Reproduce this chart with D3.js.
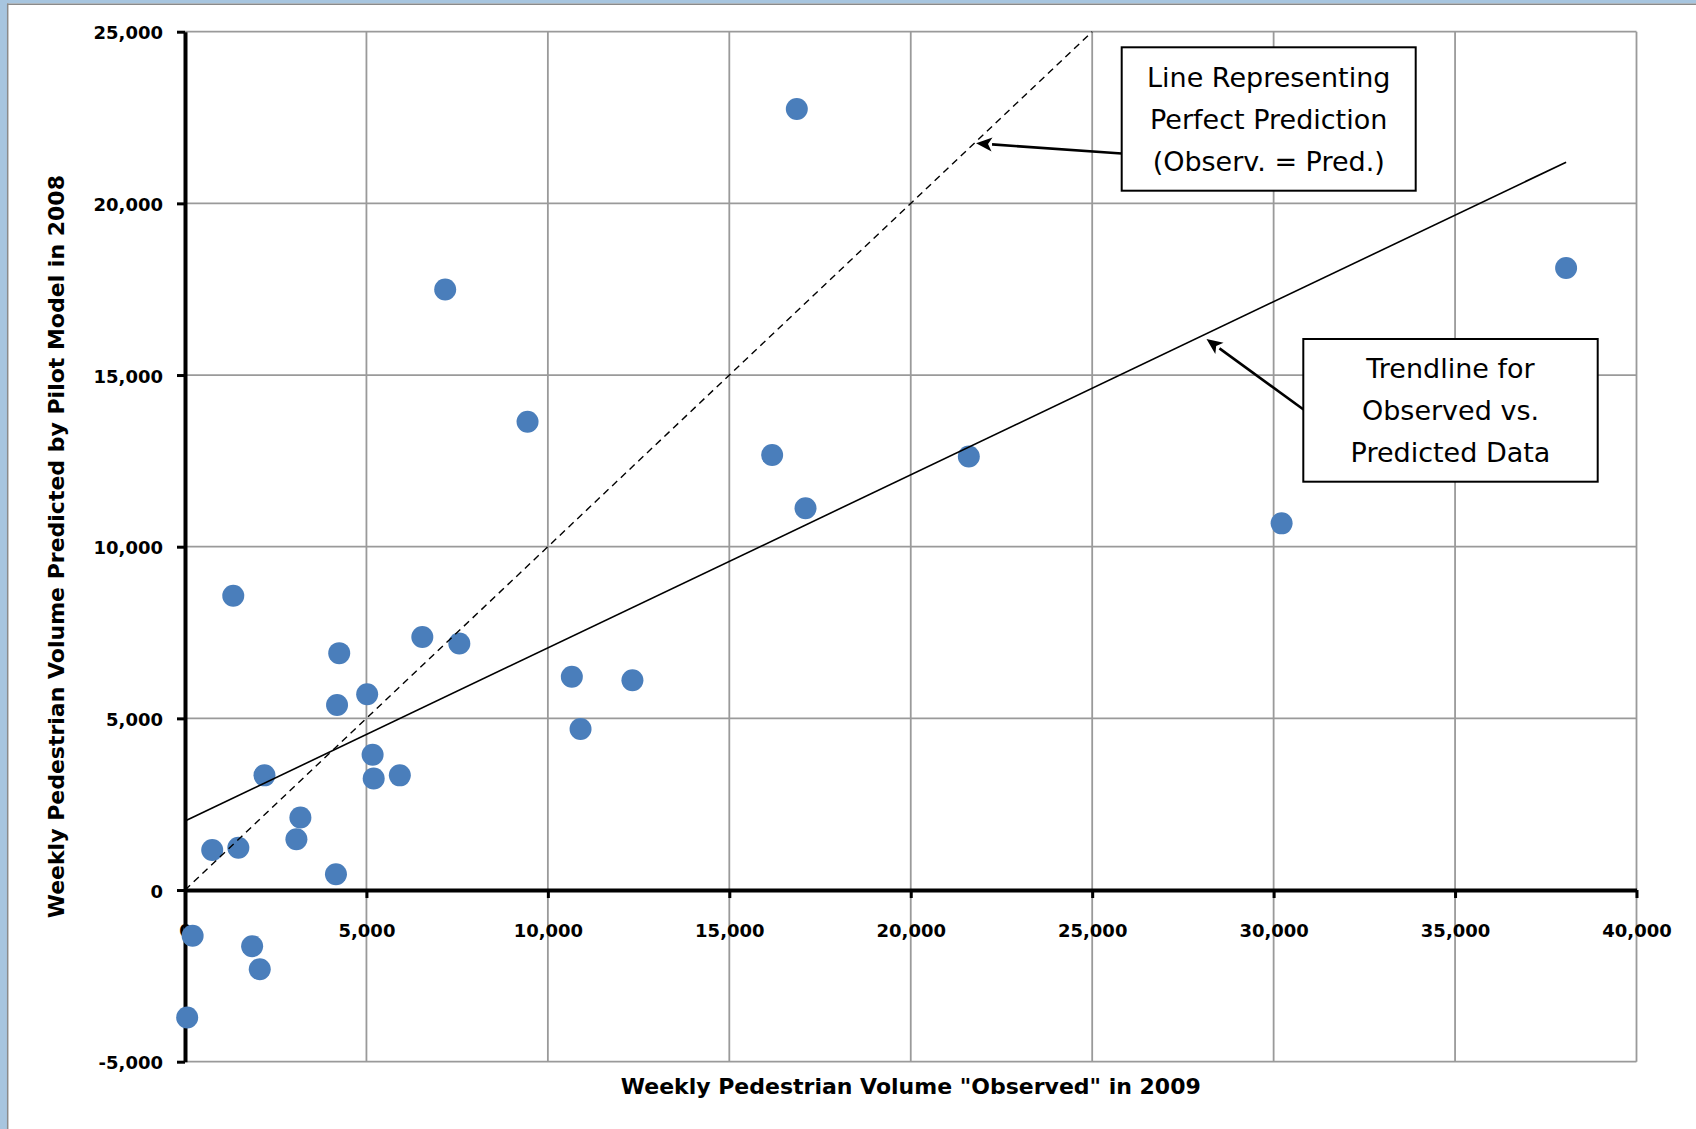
<!DOCTYPE html>
<html>
<head lang="en">
    <meta charset="UTF-8">
    <title>Observed vs Predicted</title>
    <script type="text/javascript" src="https://d3js.org/d3.v7.min.js"></script>
    <style type="text/css">
        body { margin: 0; background: white; }
        svg { display: block; font-family: "DejaVu Sans", sans-serif; }
        .tick text { font-family: "DejaVu Sans", sans-serif; font-weight: bold; font-size: 18px; fill: black; }
        .grid line { stroke: #9a9a9a; stroke-width: 1.8; }
        .axisTitle { font-weight: bold; font-size: 22px; fill: black; }
        .note rect { fill: white; stroke: black; stroke-width: 2; }
        .note text { font-size: 27px; fill: black; text-anchor: middle; }
    </style>
</head>
<body>
<script type="text/javascript">
    // values
    var observed = [16860, 7170, 9440, 16180, 21600, 17100, 30220, 38060, 1330, 4250,
                    6540, 7560, 4190, 5020, 10660, 12330, 10900, 5170, 5200, 5920,
                    2190, 3180, 3070, 750, 1470, 4160, 210, 1850, 2060, 60];
    var predicted = [22750, 17490, 13640, 12670, 12630, 11120, 10680, 18120, 8570, 6900,
                     7370, 7180, 5390, 5700, 6210, 6110, 4690, 3940, 3250, 3340,
                     3340, 2110, 1480, 1165, 1230, 460, -1330, -1635, -2305, -3710];
    var trendX = [0, 38060];
    var trendY = [2010, 21200];
    var perfectX = [0, 25000];
    var perfectY = [0, 25000];
    var xTicks = [0, 5000, 10000, 15000, 20000, 25000, 30000, 35000, 40000];
    var yTicks = [-5000, 0, 5000, 10000, 15000, 20000, 25000];
    var note1 = ["Line Representing", "Perfect Prediction", "(Observ. = Pred.)"];
    var note2 = ["Trendline for", "Observed vs.", "Predicted Data"];

    var W = 1696, H = 1129;
    var pLeft = 185, pRight = 1636.5, pTop = 31.7, pBottom = 1061.7;

    var svg = d3.select("body").append("svg").attr("width", W).attr("height", H);

    // window frame pieces
    svg.append("rect").attr("x", 0).attr("y", 0).attr("width", 7).attr("height", H).attr("fill", "#a7c5df");
    svg.append("rect").attr("x", 0).attr("y", 0).attr("width", W).attr("height", 3.5).attr("fill", "#a7c5df");
    svg.append("line").attr("x1", 7.7).attr("x2", 7.7).attr("y1", 3.5).attr("y2", H).attr("stroke", "#8a8a8a").attr("stroke-width", 1.5);
    svg.append("line").attr("x1", 7).attr("x2", W).attr("y1", 4.3).attr("y2", 4.3).attr("stroke", "#8a8a8a").attr("stroke-width", 1.5);

    var x = d3.scaleLinear().domain([0, 40000]).range([pLeft, pRight]);
    var y = d3.scaleLinear().domain([-5000, 25000]).range([pBottom, pTop]);
    var fmt = function(d) { return d3.format(",")(d).replace("\u2212", "-"); };

    var grid = svg.append("g").attr("class", "grid");
    grid.selectAll("line.v").data(xTicks).enter().append("line").attr("class", "v")
        .attr("x1", function(d) { return x(d); }).attr("x2", function(d) { return x(d); })
        .attr("y1", pTop).attr("y2", pBottom);
    grid.selectAll("line.h").data(yTicks).enter().append("line").attr("class", "h")
        .attr("x1", pLeft).attr("x2", pRight)
        .attr("y1", function(d) { return y(d); }).attr("y2", function(d) { return y(d); });

    var xAxis = svg.append("g").attr("transform", "translate(0," + y(0) + ")")
        .call(d3.axisBottom(x).tickValues(xTicks).tickFormat(fmt).tickSize(8).tickSizeOuter(0).tickPadding(26));
    var yAxis = svg.append("g").attr("transform", "translate(" + pLeft + ",0)")
        .call(d3.axisLeft(y).tickValues(yTicks).tickFormat(fmt).tickSize(8).tickSizeOuter(0).tickPadding(14));
    svg.selectAll(".domain").attr("stroke", "black").attr("stroke-width", 4);
    svg.selectAll(".tick line").attr("stroke", "black").attr("stroke-width", 3);
    yAxis.selectAll(".tick text").attr("dy", "0.4em");
    xAxis.select(".tick line").remove();

    svg.append("text").attr("class", "axisTitle")
        .attr("transform", "translate(63.5," + ((pTop + pBottom) / 2) + ") rotate(-90)")
        .attr("text-anchor", "middle")
        .text("Weekly Pedestrian Volume Predicted by Pilot Model in 2008");
    svg.append("text").attr("class", "axisTitle")
        .attr("x", (pLeft + pRight) / 2).attr("y", 1094)
        .attr("text-anchor", "middle")
        .text("Weekly Pedestrian Volume \"Observed\" in 2009");

    // points
    svg.append("g").selectAll("circle").data(observed).enter().append("circle")
        .attr("cx", function(d) { return x(d); })
        .attr("cy", function(d, i) { return y(predicted[i]); })
        .attr("r", 11)
        .attr("fill", "#4a7ebb");

    var line = d3.line().x(function(d) { return x(d[0]); }).y(function(d) { return y(d[1]); });
    svg.append("path").datum(d3.zip(perfectX, perfectY)).attr("d", line)
        .attr("fill", "none").attr("stroke", "black").attr("stroke-width", 1.4).attr("stroke-dasharray", "7,5");
    svg.append("path").datum(d3.zip(trendX, trendY)).attr("d", line)
        .attr("fill", "none").attr("stroke", "black").attr("stroke-width", 1.6);

    function arrow(x1, y1, x2, y2) {
        var a = Math.atan2(y2 - y1, x2 - x1), len = 16, wid = 7;
        var bx = x2 - len * Math.cos(a), by = y2 - len * Math.sin(a);
        svg.append("line").attr("x1", x1).attr("y1", y1).attr("x2", bx).attr("y2", by)
            .attr("stroke", "black").attr("stroke-width", 2.6);
        svg.append("path").attr("fill", "black")
            .attr("d", "M" + x2 + "," + y2 +
                "L" + (bx + wid * Math.sin(a)) + "," + (by - wid * Math.cos(a)) +
                "L" + (bx + 4 * Math.cos(a)) + "," + (by + 4 * Math.sin(a)) +
                "L" + (bx - wid * Math.sin(a)) + "," + (by + wid * Math.cos(a)) + "Z");
    }

    function note(lines, bx, by, bw, bh) {
        var g = svg.append("g").attr("class", "note");
        g.append("rect").attr("x", bx).attr("y", by).attr("width", bw).attr("height", bh);
        g.selectAll("text").data(lines).enter().append("text")
            .attr("x", bx + bw / 2)
            .attr("y", function(d, i) { return by + bh / 2 + (i - 1) * 42 + 10; })
            .text(function(d) { return d; });
    }

    arrow(1121.7, 153.5, x(21800), y(21750));
    arrow(1303.5, 409.5, x(28150), y(16050));
    note(note1, 1121.7, 47.3, 294, 143.4);
    note(note2, 1303.3, 339, 294.4, 142.7);
</script>
</body>
</html>
